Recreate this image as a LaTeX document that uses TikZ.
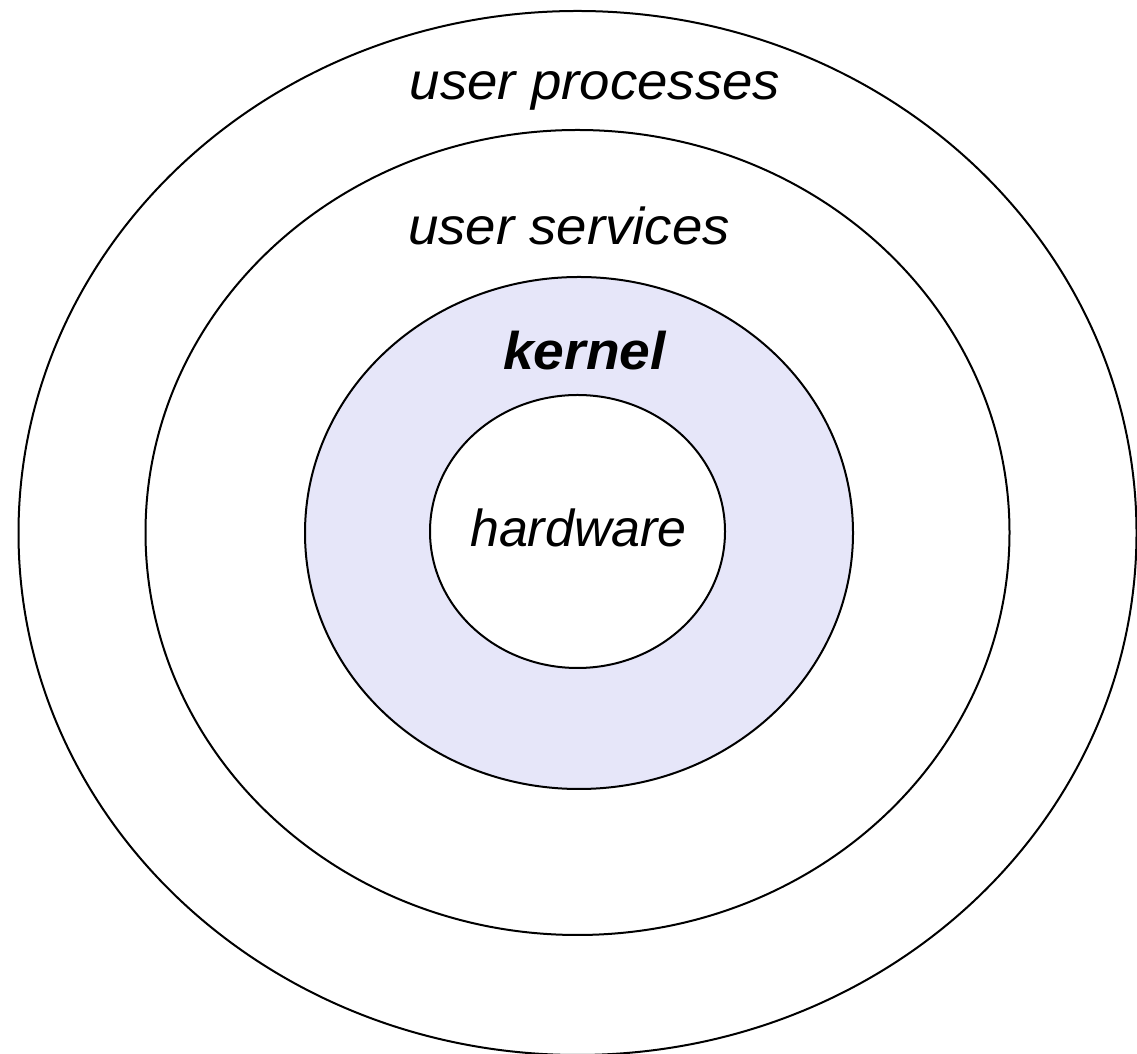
\documentclass[tikz,border=0pt]{standalone}
\usepackage{fontspec}
\setmainfont{Liberation Sans}
\usetikzlibrary{shapes.geometric}
\definecolor{kernelfill}{RGB}{230,230,249}
\tikzset{
  ring/.style={ellipse, draw=black, line width=2pt, inner sep=0pt},
  layerlabel/.style={anchor=base, inner sep=0pt, font=\fontsize{52}{60}\selectfont\itshape},
  corelabel/.style={anchor=base, inner sep=0pt, font=\fontsize{53}{62}\selectfont\bfseries\itshape}
}
\begin{document}
\begin{tikzpicture}[x=1pt,y=1pt]
  \useasboundingbox (0,0) rectangle (1137,1054);
  \fill[white] (0,0) rectangle (1137,1054);
  % concentric layers, outermost first
  \node[ring, fill=white, minimum width=1118pt, minimum height=1044pt] (processes) at (577.5,521) {};
  \node[ring, fill=white, minimum width=864pt, minimum height=805pt] (services) at (577.5,521.5) {};
  \node[ring, fill=kernelfill, minimum width=548pt, minimum height=512pt] (kernelring) at (579,521) {};
  \node[ring, fill=white, minimum width=295pt, minimum height=273pt] (hardwarering) at (577.5,522.5) {};
  % layer names
  \node[layerlabel, xscale=1.05] (lblprocesses) at (595,954) {user processes};
  \node[layerlabel, xscale=1.05] (lblservices) at (569,809) {user services};
  \node[corelabel, xscale=1.04] (lblkernel) at (584.5,684) {kernel};
  \node[layerlabel] (lblhardware) at (578.5,507) {hardware};
\end{tikzpicture}
\end{document}
